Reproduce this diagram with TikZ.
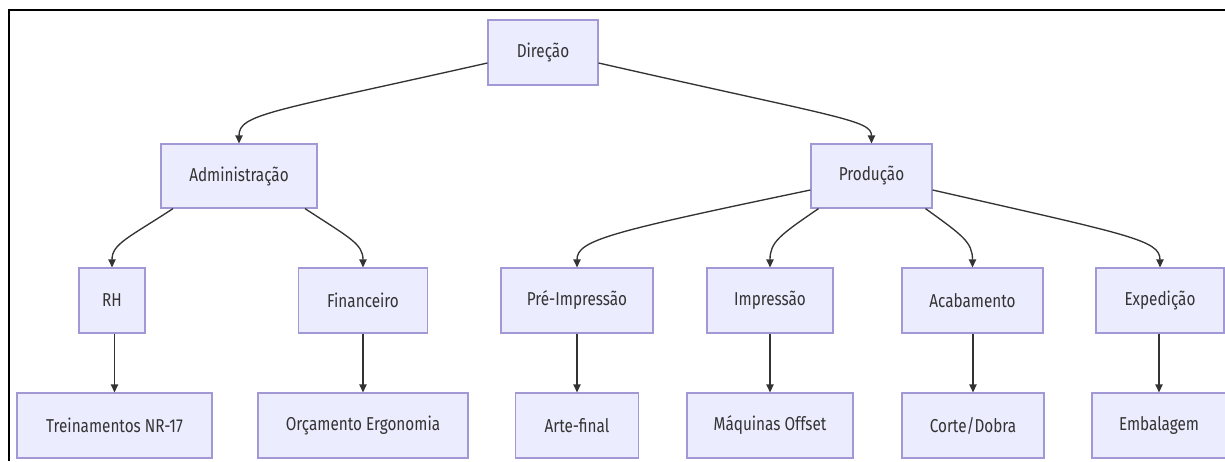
\documentclass[tikz,border=0pt]{standalone}
\usepackage{fontspec}
\setmainfont{Fira Sans}
\newfontfamily\lblfont[FakeStretch=0.82]{Fira Sans}
\usetikzlibrary{arrows.meta,calc}
\definecolor{boxfill}{HTML}{ECECFF}
\definecolor{boxline}{HTML}{A398D6}
\definecolor{ink}{HTML}{333333}
\begin{document}
\begin{tikzpicture}[x=0.75pt,y=-0.75pt,
  box/.style={draw=boxline, line width=0.9pt, fill=boxfill, text=ink,
    font=\lblfont\fontsize{14}{16}\selectfont, inner sep=0pt, minimum height=48.75pt},
  bw/.style={minimum width=#1*0.75pt},
  arr/.style={draw=ink, line width=1pt, -{Triangle[length=6pt,width=5.5pt]}},
  frame/.style={draw=black, line width=1.6pt}]
\useasboundingbox (0,0) rectangle (1225,461);
\fill[white] (0,0) rectangle (1225,461);
\draw[frame] (9,461) -- (9,10) -- (1225,10);

% level 1
\node[box, bw=110] (dir) at (543,52.5) {Direção};
% level 2
\node[box, bw=156, minimum height=48pt] (adm) at (239,176) {Administração};
\node[box, bw=121, minimum height=48pt] (prod) at (871.5,176) {Produção};
% level 3
\node[box, bw=66]  (rh)   at (112,300.5) {RH};
\node[box, bw=129] (fin)  at (363,300.5) {Financeiro};
\node[box, bw=152] (pre)  at (577,300.5) {Pré-Impressão};
\node[box, bw=126] (imp)  at (770,300.5) {Impressão};
\node[box, bw=141] (acab) at (972.5,300.5) {Acabamento};
\node[box, bw=128] (exp)  at (1160,300.5) {Expedição};
% level 4
\node[box, bw=195] (tr)   at (114.5,425.5) {Treinamentos NR-17};
\node[box, bw=210] (orc)  at (363,425.5) {Orçamento Ergonomia};
\node[box, bw=123] (arte) at (577,425.5) {Arte-final};
\node[box, bw=166] (maq)  at (770,425.5) {Máquinas Offset};
\node[box, bw=142] (cor)  at (973,425.5) {Corte/Dobra};
\node[box, bw=134] (emb)  at (1159,425.5) {Embalagem};

% connectors level 1 -> 2
\draw[arr] ($(dir.west)+(0,10.5)$) .. controls (270,112) and (239,114) .. (adm.north);
\draw[arr] ($(dir.east)+(0,10.5)$) .. controls (840,118) and (871.5,120) .. (prod.north);
% level 2 -> 3
\draw[arr] ($(adm.south)+(-66,0)$) .. controls (128,238) and (112,244) .. (rh.north);
\draw[arr] ($(adm.south)+(66,0)$) .. controls (350,238) and (363,244) .. (fin.north);
\draw[arr] ($(prod.west)+(0,14)$) .. controls (610,232) and (577,240) .. (pre.north);
\draw[arr] ($(prod.south)+(-53,0)$) .. controls (780,235) and (770,242) .. (imp.north);
\draw[arr] ($(prod.south)+(54,0)$) .. controls (962,235) and (972.5,242) .. (acab.north);
\draw[arr] ($(prod.east)+(0,14)$) .. controls (1130,235) and (1160,240) .. (exp.north);
% level 3 -> 4
\draw[arr] (rh.south -| tr.north) -- (tr.north);
\draw[arr] (fin.south) -- (orc.north);
\draw[arr] (pre.south) -- (arte.north);
\draw[arr] (imp.south) -- (maq.north);
\draw[arr] (acab.south -| cor.north) -- (cor.north);
\draw[arr] (exp.south -| emb.north) -- (emb.north);
\end{tikzpicture}
\end{document}
